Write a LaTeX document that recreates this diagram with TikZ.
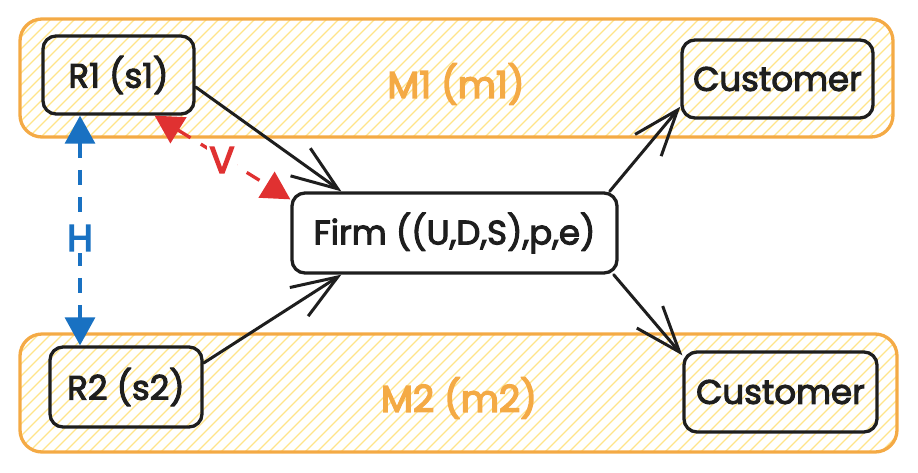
\documentclass[tikz,border=0pt]{standalone}
\usepackage{fontspec}
\setmainfont{Poppins}
\newfontfamily\handfont{Poppins}[FakeBold=3]
\newfontfamily\handbold{Poppins}[FakeBold=4]
\usetikzlibrary{arrows.meta,calc}
\definecolor{ink}{HTML}{1E1E1E}
\definecolor{mkt}{HTML}{F4AA45}
\definecolor{hatch}{HTML}{FFE48A}
\definecolor{hblue}{HTML}{1971C2}
\definecolor{vred}{HTML}{E03131}
\tikzset{
  box/.style={draw=ink, line width=3.3pt, rounded corners=13pt, font=\handfont\fontsize{34}{36}\selectfont, text=ink, inner sep=0pt},
  market/.style={draw=mkt, line width=3.3pt, rounded corners=22pt},
  mlabel/.style={text=mkt, font=\handbold\fontsize{37}{40}\selectfont},
  tag/.style={fill=white, inner sep=2pt, font=\handbold\fontsize{37}{39}\selectfont},
  flow/.style={draw=ink, line width=3pt, line cap=round, -{Straight Barb[length=46pt,width=34pt,line width=3pt]}},
  linkh/.style={draw=hblue, line width=3.3pt, dash pattern=on 15pt off 12pt, {Triangle[length=28pt,width=30pt]}-{Triangle[length=28pt,width=30pt]}},
  linkv/.style={draw=vred, line width=3.3pt, dash pattern=on 15pt off 12pt, {Triangle[length=28pt,width=30pt]}-{Triangle[length=28pt,width=30pt]}},
}
\begin{document}
\begin{tikzpicture}[x=1pt,y=-1pt]
\useasboundingbox (0,0) rectangle (918,472);
% markets with hatching
\begin{scope}
  \clip[rounded corners=22pt] (20,19) rectangle (893,137);
  \foreach \i in {-130,-118,...,900} \draw[hatch, line width=1.3pt] (\i,140) -- (\i+124,16);
\end{scope}
\begin{scope}
  \clip[rounded corners=22pt] (20,334) rectangle (897,452);
  \foreach \i in {-130,-118,...,910} \draw[hatch, line width=1.3pt] (\i,455) -- (\i+124,331);
\end{scope}
\draw[market] (20,19) rectangle (893,137);
\draw[market] (20,334) rectangle (897,452);
\node[mlabel] (m1) at (456,84) {M1 (m1)};
\node[mlabel] (m2) at (459,398) {M2 (m2)};
% nodes
\node[box, minimum width=151pt, minimum height=78pt] (r1) at (118.5,75) {R1 (s1)};
\node[box, minimum width=152pt, minimum height=80pt] (r2) at (126,387) {R2 (s2)};
\node[box, minimum width=191pt, minimum height=78pt] (c1) at (777.5,79) {Customer};
\node[box, minimum width=193pt, minimum height=80pt] (c2) at (780.5,392) {Customer};
\node[box, fill=white, minimum width=325pt, minimum height=80pt] (firm) at (454.5,233) {Firm ((U,D,S),p,e)};
% flows
\draw[flow] ([yshift=-12pt]r1.east) -- ([xshift=51pt]firm.north west);
\draw[flow] ([yshift=24pt]r2.east) -- ([xshift=51pt]firm.south west);
\draw[flow] ([xshift=-9pt]firm.north east) -- ([yshift=13pt]c1.south west);
\draw[flow] ([xshift=-5pt]firm.south east) -- ([yshift=-5pt]c2.north west);
% links
\coordinate (hx) at (80,0);
\draw[linkh] (r1.south -| hx) -- (r2.north -| hx);
\node[tag, text=hblue] (hl) at (80,238) {H};
\draw[linkv] ([xshift=-41pt]r1.south east) -- ([yshift=-8pt]firm.north west);
\node[tag, text=vred] (vl) at (222,160) {V};
\end{tikzpicture}
\end{document}
